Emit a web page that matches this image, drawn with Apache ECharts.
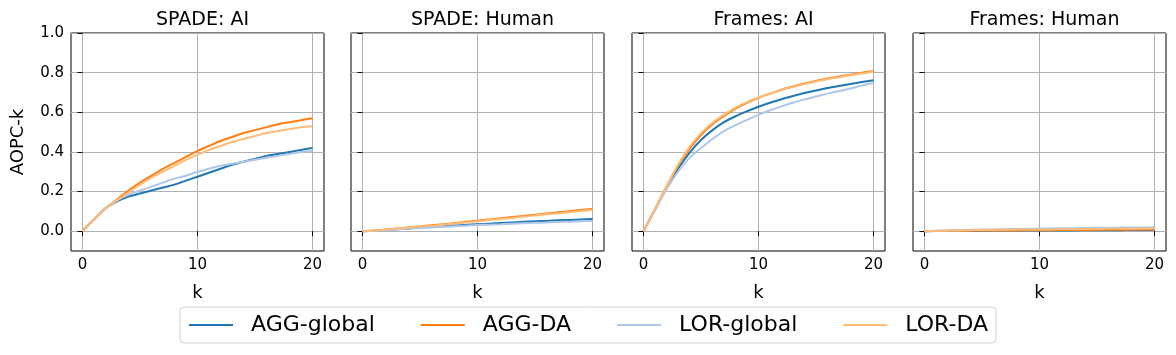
<!DOCTYPE html>
<html>
<head>
<meta charset="utf-8">
<script src="https://cdn.jsdelivr.net/npm/echarts@6/dist/echarts.min.js"></script>
<style>
  html, body { margin: 0; padding: 0; background: #fff; }
  #main { width: 1176px; height: 355px; }
</style>
</head>
<body>
<div id="main"></div>
<script>
// k values (x axis)
var kVals = [0,1,2,3,4,5,6,7,8,9,10,11,12,13,14,15,16,17,18,19,20];
var panelTitles = ['SPADE: AI', 'SPADE: Human', 'Frames: AI', 'Frames: Human'];
var seriesNames = ['AGG-global', 'AGG-DA', 'LOR-global', 'LOR-DA'];
var xTicks = [0, 10, 20];
var yTicks = [0.0, 0.2, 0.4, 0.6, 0.8, 1.0];

// SPADE: AI
var spadeAiAggGlobal = [0,0.06,0.115,0.15,0.175,0.19,0.205,0.22,0.235,0.255,0.275,0.295,0.315,0.335,0.35,0.365,0.38,0.39,0.40,0.41,0.42];
var spadeAiAggDa = [0,0.06,0.115,0.16,0.205,0.245,0.28,0.315,0.345,0.375,0.405,0.43,0.455,0.475,0.495,0.51,0.525,0.54,0.55,0.56,0.57];
var spadeAiLorGlobal = [0,0.06,0.115,0.155,0.185,0.205,0.225,0.245,0.265,0.28,0.30,0.315,0.33,0.34,0.35,0.36,0.37,0.38,0.39,0.40,0.405];
var spadeAiLorDa = [0,0.06,0.115,0.155,0.195,0.235,0.27,0.30,0.33,0.36,0.385,0.41,0.43,0.45,0.465,0.48,0.495,0.505,0.515,0.525,0.53];

// SPADE: Human
var spadeHumAggGlobal = [0,0.002,0.006,0.01,0.014,0.018,0.022,0.025,0.029,0.032,0.035,0.038,0.041,0.044,0.047,0.05,0.052,0.055,0.057,0.059,0.061];
var spadeHumAggDa = [0,0.003,0.008,0.013,0.019,0.024,0.03,0.035,0.041,0.047,0.053,0.059,0.065,0.071,0.077,0.083,0.089,0.095,0.101,0.107,0.112];
var spadeHumLorGlobal = [0,0.002,0.005,0.009,0.013,0.016,0.019,0.022,0.025,0.028,0.031,0.033,0.035,0.038,0.04,0.042,0.044,0.046,0.048,0.05,0.052];
var spadeHumLorDa = [0,0.003,0.008,0.013,0.018,0.023,0.028,0.033,0.039,0.044,0.05,0.056,0.062,0.067,0.073,0.079,0.085,0.09,0.096,0.102,0.107];

// Frames: AI
var framesAiAggGlobal = [0,0.11,0.22,0.315,0.395,0.46,0.51,0.55,0.58,0.605,0.628,0.648,0.666,0.682,0.697,0.71,0.722,0.733,0.743,0.753,0.762];
var framesAiAggDa = [0,0.11,0.225,0.33,0.415,0.485,0.54,0.582,0.618,0.648,0.673,0.694,0.714,0.73,0.745,0.758,0.77,0.78,0.79,0.80,0.808];
var framesAiLorGlobal = [0,0.105,0.21,0.30,0.37,0.42,0.465,0.505,0.535,0.562,0.587,0.61,0.63,0.648,0.665,0.68,0.694,0.707,0.72,0.735,0.748];
var framesAiLorDa = [0,0.11,0.225,0.335,0.425,0.495,0.547,0.588,0.623,0.651,0.675,0.695,0.713,0.728,0.742,0.755,0.767,0.777,0.787,0.796,0.804];

// Frames: Human
var framesHumAggGlobal = [0,0.001,0.001,0.002,0.002,0.002,0.003,0.003,0.003,0.003,0.004,0.004,0.004,0.004,0.005,0.005,0.005,0.005,0.006,0.006,0.006];
var framesHumAggDa = [0,0.001,0.002,0.002,0.003,0.003,0.004,0.004,0.004,0.005,0.005,0.005,0.006,0.006,0.006,0.007,0.007,0.007,0.008,0.008,0.008];
var framesHumLorGlobal = [0,0.002,0.004,0.006,0.007,0.008,0.009,0.010,0.011,0.012,0.013,0.014,0.015,0.015,0.016,0.017,0.017,0.018,0.019,0.019,0.02];
var framesHumLorDa = [0,0.002,0.003,0.004,0.005,0.006,0.007,0.007,0.008,0.008,0.009,0.009,0.010,0.010,0.011,0.011,0.012,0.012,0.012,0.013,0.013];

var panelData = [
    [spadeAiAggGlobal, spadeAiAggDa, spadeAiLorGlobal, spadeAiLorDa],
    [spadeHumAggGlobal, spadeHumAggDa, spadeHumLorGlobal, spadeHumLorDa],
    [framesAiAggGlobal, framesAiAggDa, framesAiLorGlobal, framesAiLorDa],
    [framesHumAggGlobal, framesHumAggDa, framesHumLorGlobal, framesHumLorDa]
];

var colors = ['#1f77b4', '#ff7f0e', '#aec7e8', '#ffbb78'];
var panelLeft = [71, 351, 632, 913];
var panelWidth = 253;
var font = 'DejaVu Sans';

var chart = echarts.init(document.getElementById('main'));

var grids = [], xAxes = [], yAxes = [], titles = [], series = [];
for (var p = 0; p < 4; p++) {
    grids.push({
        left: panelLeft[p], top: 33, width: panelWidth, height: 218,
        show: true, borderColor: '#000', borderWidth: 1, backgroundColor: 'transparent'
    });
    titles.push({
        text: panelTitles[p],
        left: panelLeft[p] + panelWidth / 2,
        top: 6,
        textAlign: 'center',
        textStyle: { fontFamily: font, fontSize: 19, fontWeight: 'normal', color: '#000' }
    });
    xAxes.push({
        type: 'value', gridIndex: p, min: -1, max: 21,
        name: 'k', nameLocation: 'middle', nameGap: 33,
        nameTextStyle: { fontFamily: font, fontSize: 18, color: '#000' },
        axisLine: { show: false },
        axisTick: { show: true, length: 5, lineStyle: { color: '#000' }, customValues: xTicks },
        axisLabel: { fontFamily: font, fontSize: 15, color: '#000', margin: 7, customValues: xTicks },
        splitLine: { show: true, lineStyle: { color: '#b0b0b0', width: 1 } }
    });
    yAxes.push({
        type: 'value', gridIndex: p, min: -0.1, max: 1.0,
        name: p === 0 ? 'AOPC-k' : '', nameLocation: 'middle', nameGap: 44,
        nameTextStyle: { fontFamily: font, fontSize: 18, color: '#000' },
        axisLine: { show: false },
        axisTick: { show: true, length: 5, lineStyle: { color: '#000' }, customValues: yTicks },
        axisLabel: {
            show: p === 0, fontFamily: font, fontSize: 15, color: '#000', margin: 7,
            customValues: yTicks,
            formatter: function (v) { return v.toFixed(1); }
        },
        splitLine: { show: true, lineStyle: { color: '#b0b0b0', width: 1 } }
    });
    for (var s = 0; s < 4; s++) {
        var pts = [];
        for (var i = 0; i < kVals.length; i++) {
            pts.push([kVals[i], panelData[p][s][i]]);
        }
        series.push({
            name: seriesNames[s], type: 'line', xAxisIndex: p, yAxisIndex: p,
            data: pts, symbol: 'none', smooth: 0.3,
            lineStyle: { color: colors[s], width: 2 },
            itemStyle: { color: colors[s] },
            z: 2 + s
        });
    }
}

var option = {
    animation: false,
    backgroundColor: '#fff',
    title: titles,
    grid: grids,
    xAxis: xAxes,
    yAxis: yAxes,
    legend: {
        data: seriesNames,
        left: 180, top: 307,
        icon: 'rect', itemWidth: 44, itemHeight: 2, itemGap: 46,
        padding: [7, 8, 7, 9],
        borderColor: '#d0d0d0', borderWidth: 1, borderRadius: 4,
        textStyle: { fontFamily: font, fontSize: 22, color: '#000', padding: [0, 0, 0, 13] }
    },
    series: series
};
chart.setOption(option);
</script>
</body>
</html>
